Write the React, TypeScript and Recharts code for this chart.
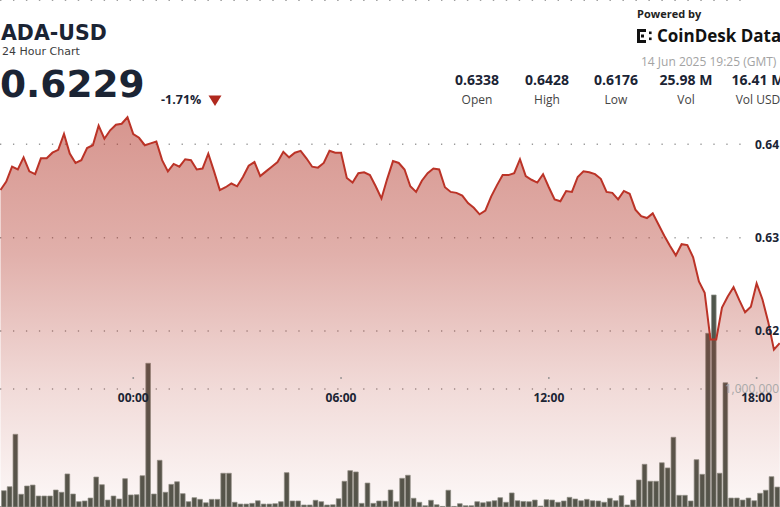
import { Area, Bar, CartesianGrid, ComposedChart, XAxis, YAxis } from "recharts";

// 10-minute steps, index 0 = 20:10 of the previous day
const PRICES = [
  0.6351, 0.636, 0.6376, 0.6373, 0.6386, 0.6371, 0.6368, 0.6385, 0.6385, 0.6391,
  0.6394, 0.6411, 0.639, 0.638, 0.6383, 0.6396, 0.6399, 0.642, 0.6406, 0.6415,
  0.6421, 0.6422, 0.6429, 0.6411, 0.6407, 0.6399, 0.6401, 0.6403, 0.6383, 0.6371,
  0.6379, 0.6376, 0.6384, 0.6383, 0.6373, 0.6374, 0.639, 0.6371, 0.6351, 0.6354,
  0.6358, 0.6355, 0.6365, 0.6377, 0.6381, 0.6366, 0.6371, 0.6376, 0.6381, 0.6392,
  0.6386, 0.6391, 0.6393, 0.6385, 0.6376, 0.6375, 0.638, 0.6393, 0.6391, 0.6391,
  0.6364, 0.6359, 0.6369, 0.637, 0.6367, 0.6355, 0.6342, 0.6363, 0.6382, 0.638,
  0.6373, 0.6355, 0.6349, 0.6361, 0.6369, 0.6374, 0.6373, 0.6354, 0.6349, 0.6348,
  0.6345, 0.6337, 0.6332, 0.6325, 0.6329, 0.6344, 0.6356, 0.6367, 0.6367, 0.6369,
  0.6384, 0.6366, 0.6362, 0.6359, 0.6368, 0.6354, 0.6341, 0.6339, 0.635, 0.6349,
  0.6365, 0.6371, 0.637, 0.6368, 0.6363, 0.6349, 0.6348, 0.6341, 0.635, 0.6347,
  0.633, 0.6323, 0.6321, 0.6326, 0.6314, 0.6302, 0.6291, 0.6281, 0.6293, 0.6292,
  0.6279, 0.6253, 0.6241, 0.6191, 0.6191, 0.6225, 0.6237, 0.6247, 0.6233, 0.622,
  0.6226, 0.6251, 0.6234, 0.621, 0.618, 0.6187,
];

// volume of the 10 minutes that follow each price point
const VOLUMES = [
  138000, 172000, 616000, 108000, 178000, 186000, 93000, 93000, 93000, 144000,
  125000, 280000, 110000, 45000, 51000, 76000, 254000, 189000, 59000, 93000,
  68000, 240000, 102000, 104000, 265000, 1218000, 110000, 396000, 125000, 192000,
  214000, 113000, 45000, 79000, 65000, 36000, 65000, 65000, 286000, 286000,
  40000, 25000, 25000, 31000, 53000, 25000, 25000, 28000, 45000, 291000,
  51000, 51000, 17000, 17000, 57000, 45000, 17000, 19000, 70000, 218000,
  308000, 297000, 31000, 203000, 31000, 51000, 51000, 144000, 45000, 243000,
  269000, 74000, 40000, 11000, 57000, 19000, 5000, 142000, 5000, 28000,
  11000, 11000, 45000, 36000, 45000, 53000, 79000, 40000, 119000, 53000,
  47000, 45000, 59000, 8000, 62000, 59000, 40000, 51000, 82000, 68000,
  53000, 65000, 53000, 51000, 40000, 74000, 53000, 96000, 17000, 59000,
  229000, 362000, 218000, 218000, 375000, 331000, 591000, 99000, 99000, 51000,
  401000, 277000, 1472000, 1797000, 286000, 1053000, 76000, 76000, 59000, 76000,
  53000, 116000, 142000, 257000, 169000, 308000,
];

const TIME_TICKS = [23, 59, 95, 131];
const TIME_LABELS = ["00:00", "06:00", "12:00", "18:00"];
const PRICE_TICKS = [0.62, 0.63, 0.64];
const VOL_TICKS = [1000000];

const STATS = [
  { value: "0.6338", label: "Open" },
  { value: "0.6428", label: "High" },
  { value: "0.6176", label: "Low" },
  { value: "25.98 M", label: "Vol" },
  { value: "16.41 M", label: "Vol USD" },
];

const rows = PRICES.map((p, i) => ({ t: i, price: p, vol: VOLUMES[i] }));

// visible window in steps; the bar axis is shifted half a step so bars sit between points
const X_DOMAIN: [number, number] = [-0.0866, 135.05];
const BAR_DOMAIN: [number, number] = [X_DOMAIN[0] - 0.5, X_DOMAIN[1] - 0.5];

const INK = "#1b2434";

function TimeTick(props: any) {
  const { x, payload } = props;
  const idx = TIME_TICKS.indexOf(payload.value);
  return (
    <g>
      <rect x={x - 0.8} y={377.2} width={1.6} height={1.6} fill="#8a8a8a" />
      <text
        x={x}
        y={402}
        textAnchor="middle"
        fontFamily="Open Sans"
        fontWeight={700}
        fontSize={12}
        fill={INK}
      >
        {TIME_LABELS[idx] ?? ""}
      </text>
    </g>
  );
}

function PriceTick(props: any) {
  const { y, payload } = props;
  return (
    <text
      x={779}
      y={y + 4.3}
      textAnchor="end"
      fontFamily="Open Sans"
      fontWeight={700}
      fontSize={12}
      fill={INK}
    >
      {Number(payload.value).toFixed(2)}
    </text>
  );
}

function VolTick(props: any) {
  const { y, payload } = props;
  return (
    <text
      x={779}
      y={y + 4.3}
      textAnchor="end"
      fontFamily="Open Sans"
      fontSize={12}
      fill="#a9a9a9"
    >
      {Number(payload.value).toLocaleString("en-US")}
    </text>
  );
}

function Header() {
  const statX = [477, 547, 616, 686, 758];
  return (
    <svg
      width={780}
      height={120}
      style={{ position: "absolute", left: 0, top: 0, pointerEvents: "none" }}
    >
      <text x={1} y={40} fontFamily="DejaVu Sans" fontWeight={700} fontSize={20.5} fill={INK}>
        ADA-USD
      </text>
      <text x={2} y={55} fontFamily="DejaVu Sans" fontSize={11} fill="#3c3c3c">
        24 Hour Chart
      </text>
      <text x={0} y={97} fontFamily="DejaVu Sans" fontWeight={700} fontSize={37.5} fill={INK}>
        0.6229
      </text>
      <text x={161} y={104} fontFamily="Open Sans" fontWeight={700} fontSize={12.5} fill={INK}>
        -1.71%
      </text>
      <polygon points="208.5,95.5 221.5,95.5 215,106" fill="#b0291e" />

      <text x={637} y={18} fontFamily="Open Sans" fontWeight={700} fontSize={11} fill="#222">
        Powered by
      </text>
      <g fill="#111">
        <rect x={637} y={29} width={3} height={14} />
        <rect x={637} y={29} width={9} height={3} />
        <rect x={637} y={40} width={9} height={3} />
        <rect x={641} y={34.5} width={3} height={3} />
        <rect x={649} y={31.5} width={2.6} height={2.6} />
        <rect x={649} y={37.5} width={2.6} height={2.6} />
      </g>
      <text x={657} y={42} fontFamily="Open Sans" fontWeight={700} fontSize={17} fill="#111">
        CoinDesk Data
      </text>
      <text x={641} y={66} fontFamily="Open Sans" fontSize={12} fill="#a3a3a3">
        14 Jun 2025 19:25 (GMT)
      </text>

      {STATS.map((s, i) => (
        <g key={s.label}>
          <text
            x={statX[i]}
            y={85}
            textAnchor="middle"
            fontFamily="Open Sans"
            fontWeight={700}
            fontSize={14}
            fill={INK}
          >
            {s.value}
          </text>
          <text
            x={statX[i]}
            y={104}
            textAnchor="middle"
            fontFamily="Open Sans"
            fontSize={12}
            fill="#444"
          >
            {s.label}
          </text>
        </g>
      ))}
    </svg>
  );
}

export default function App() {
  return (
    <div
      style={{
        position: "absolute",
        left: 0,
        top: 0,
        width: 780,
        height: 507,
        overflow: "hidden",
        background: "#ffffff",
      }}
    >
      <ComposedChart
        width={780}
        height={507}
        data={rows}
        margin={{ top: 0, right: 0, bottom: 0, left: 0 }}
      >
        <defs>
          <linearGradient id="adaFill" x1="0" y1="0" x2="0" y2="1">
            <stop offset="0%" stopColor="#b3372a" stopOpacity={0.88} />
            <stop offset="35%" stopColor="#b3372a" stopOpacity={0.66} />
            <stop offset="70%" stopColor="#b3372a" stopOpacity={0.3} />
            <stop offset="100%" stopColor="#b3372a" stopOpacity={0.06} />
          </linearGradient>
        </defs>
        <CartesianGrid
          yAxisId="price"
          vertical={false}
          stroke="#9a9a9a"
          strokeWidth={1.5}
          strokeDasharray="1.3 11.67"
          width={748}
        />
        <CartesianGrid
          yAxisId="vol"
          vertical={false}
          stroke="#9a9a9a"
          strokeWidth={1.5}
          strokeDasharray="1.3 11.67"
          width={748}
        />
        <XAxis
          dataKey="t"
          type="number"
          domain={X_DOMAIN}
          allowDataOverflow
          ticks={TIME_TICKS}
          interval={0}
          tick={<TimeTick />}
          axisLine={false}
          tickLine={false}
          mirror
        />
        <XAxis
          xAxisId="bars"
          dataKey="t"
          type="number"
          domain={BAR_DOMAIN}
          allowDataOverflow
          hide
        />
        <YAxis
          yAxisId="price"
          orientation="right"
          mirror
          type="number"
          domain={[0.601146, 0.655458]}
          allowDataOverflow
          ticks={PRICE_TICKS}
          interval={0}
          tick={<PriceTick />}
          axisLine={false}
          tickLine={false}
        />
        <YAxis
          yAxisId="vol"
          orientation="right"
          mirror
          type="number"
          domain={[0, 4296610]}
          allowDataOverflow
          ticks={VOL_TICKS}
          interval={0}
          tick={<VolTick />}
          axisLine={false}
          tickLine={false}
        />
        <Bar
          xAxisId="bars"
          yAxisId="vol"
          dataKey="vol"
          barSize={4.7}
          fill="#50564c"
          stroke="#8f938b"
          strokeWidth={0.7}
          isAnimationActive={false}
          zIndex={50}
        />
        <Area
          yAxisId="price"
          dataKey="price"
          type="linear"
          stroke="#bb3327"
          strokeWidth={2}
          fill="url(#adaFill)"
          dot={false}
          activeDot={false}
          isAnimationActive={false}
          zIndex={100}
        />
      </ComposedChart>
      <Header />
    </div>
  );
}
